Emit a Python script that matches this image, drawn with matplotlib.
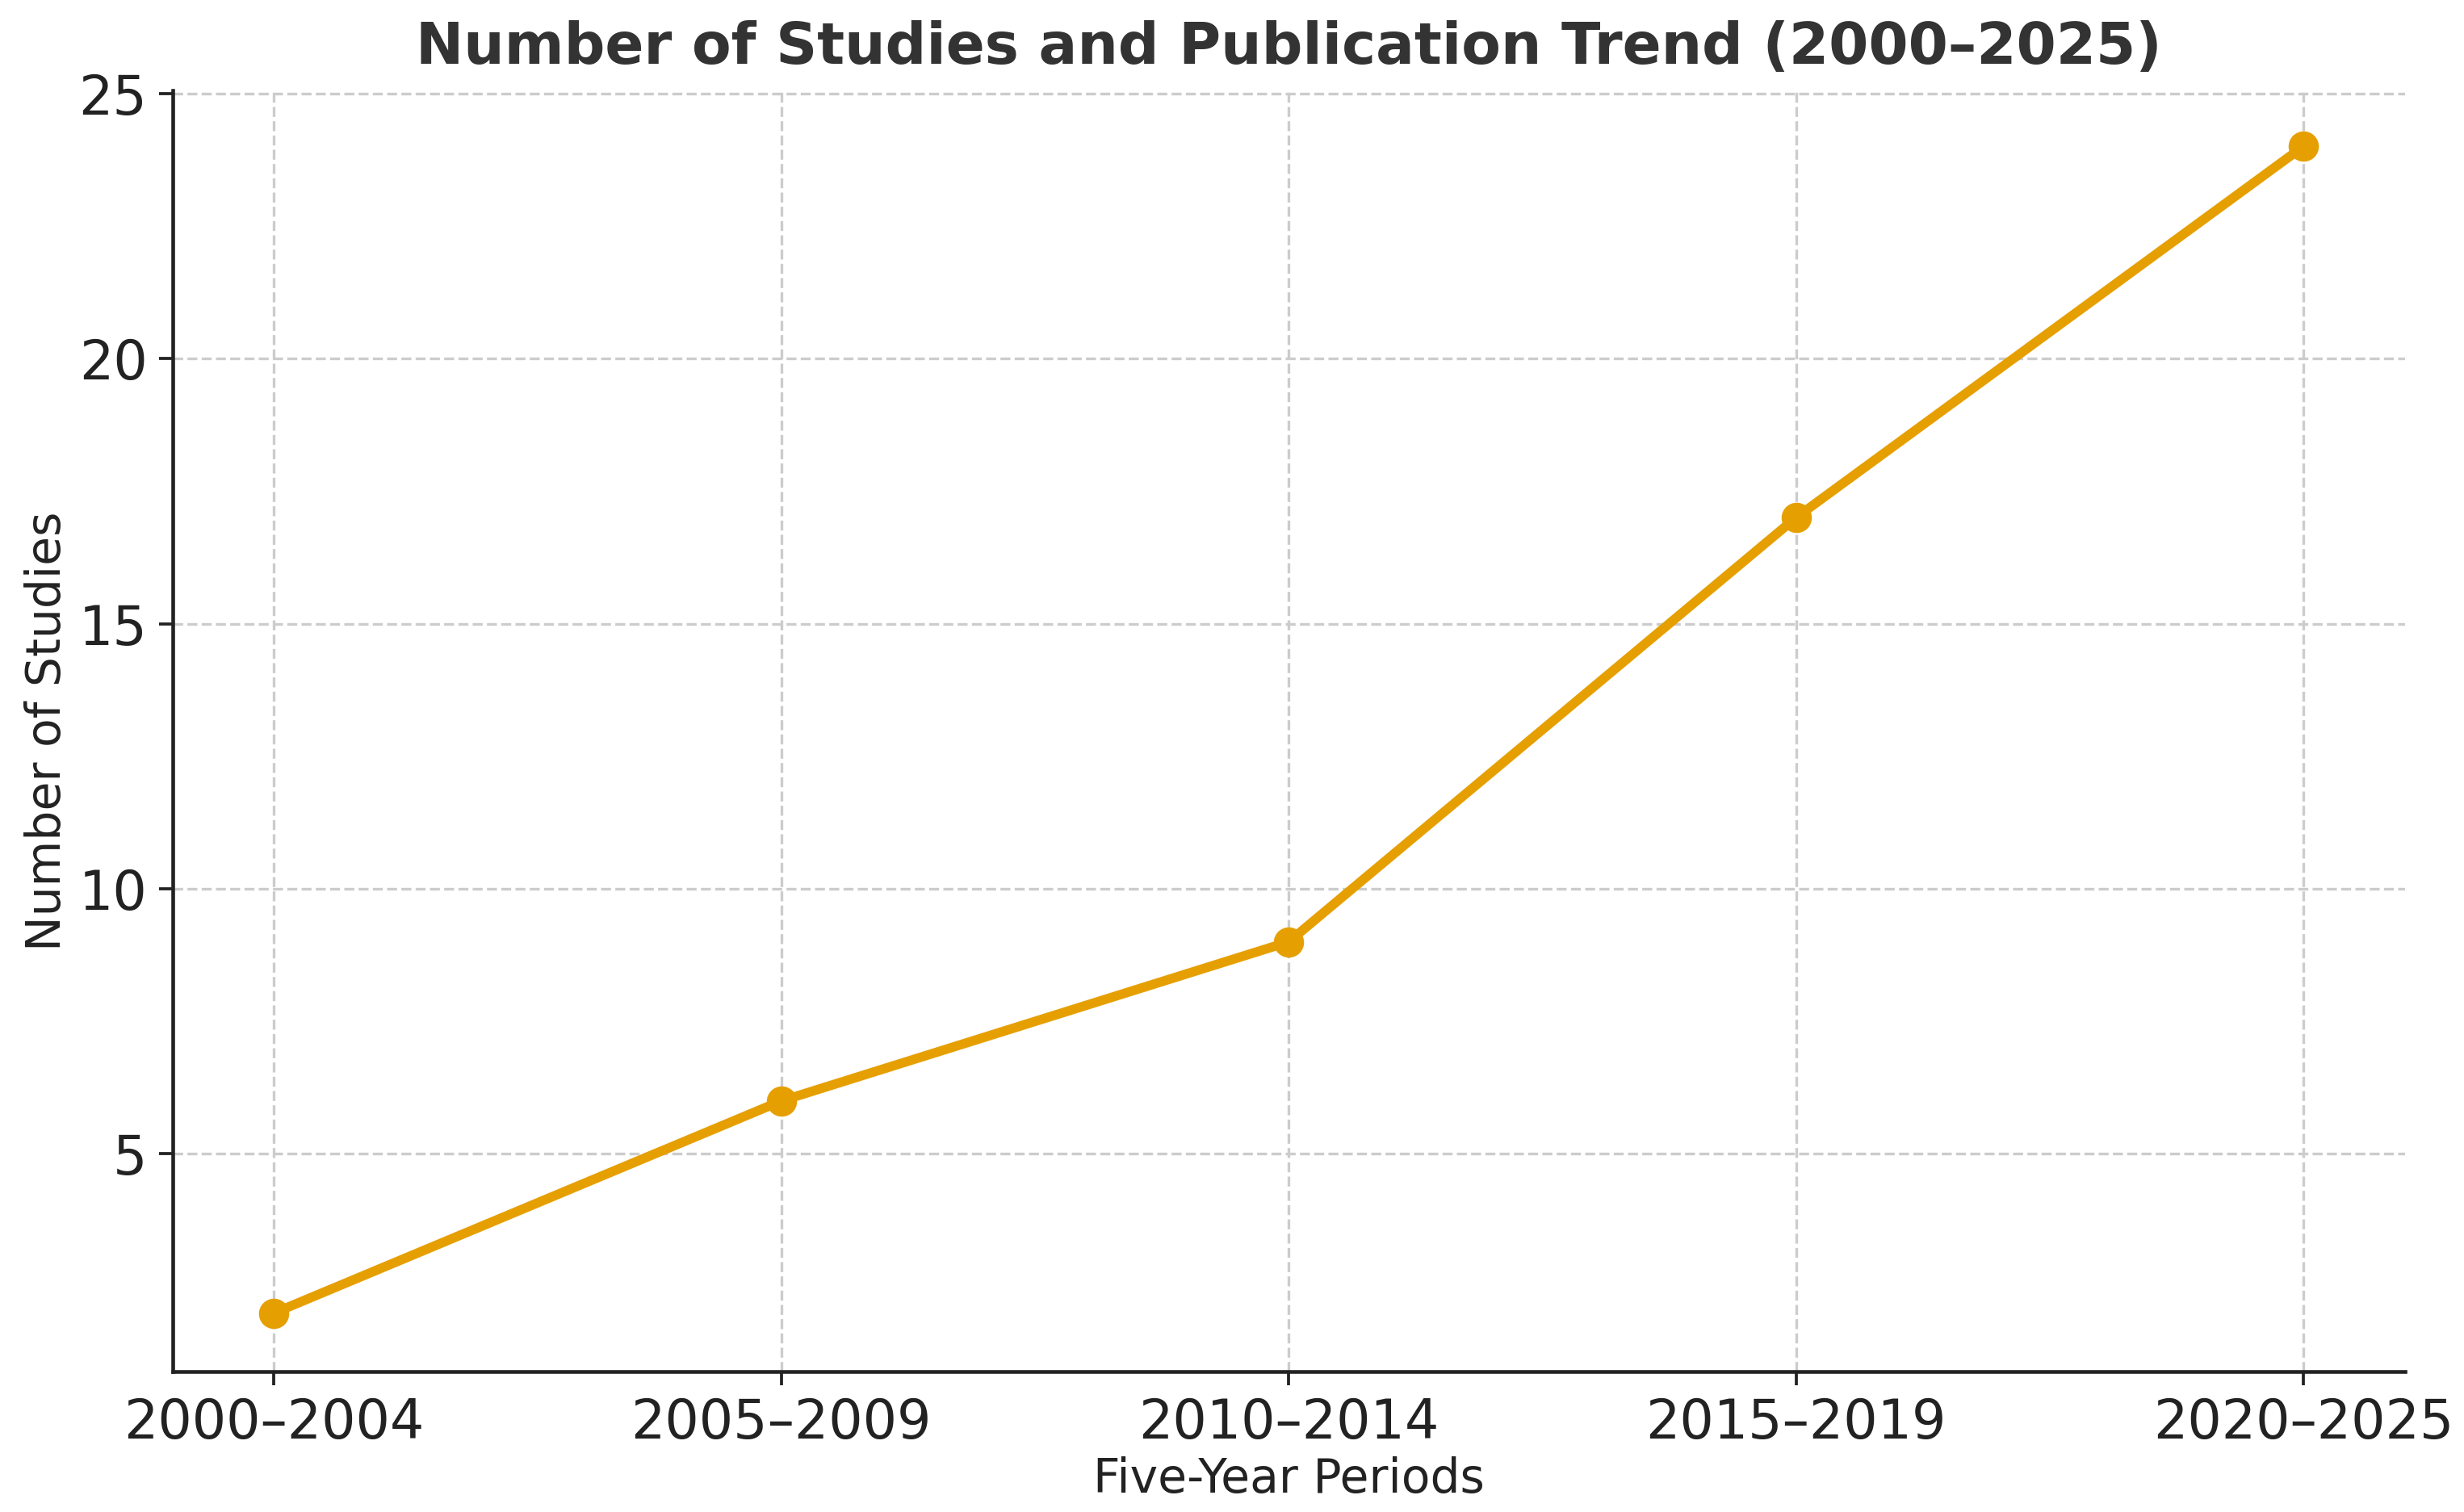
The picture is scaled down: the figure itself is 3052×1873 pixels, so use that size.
import matplotlib
matplotlib.use('Agg')
import matplotlib.pyplot as plt

periods = ['2000–2004', '2005–2009', '2010–2014', '2015–2019', '2020–2025']
n_studies = [2, 6, 9, 17, 24]

def main():
	fig, ax = plt.subplots(figsize=(3052/300, 1873/300), dpi=300)
	fig.subplots_adjust(left=0.070, right=0.976, top=0.940, bottom=0.093)

	x = list(range(len(periods)))
	ax.plot(x, n_studies, color='#E69F00', linewidth=2.8, marker='o', markersize=8)

	ax.set_xticks(x)
	ax.set_xticklabels(periods)
	ax.set_yticks([5, 10, 15, 20, 25])
	ax.set_ylim(0.9, 25.05)
	ax.tick_params(axis='both', labelsize=16, colors='#222222', width=0.9, length=4)

	ax.set_title('Number of Studies and Publication Trend (2000–2025)', fontsize=17, fontweight='bold', color='#333333', pad=8)
	ax.set_xlabel('Five-Year Periods', fontsize=14, color='#222222', labelpad=2)
	ax.set_ylabel('Number of Studies', fontsize=14, color='#222222', labelpad=2.5)

	ax.grid(True, linestyle='--', color='#cccccc', linewidth=0.8)
	ax.set_axisbelow(True)
	for s in ['top', 'right']:
		ax.spines[s].set_visible(False)
	for s in ['left', 'bottom']:
		ax.spines[s].set_linewidth(1.1)
		ax.spines[s].set_color('#222222')

	fig.savefig('out.png', dpi=300)

if __name__ == '__main__':
	main()
